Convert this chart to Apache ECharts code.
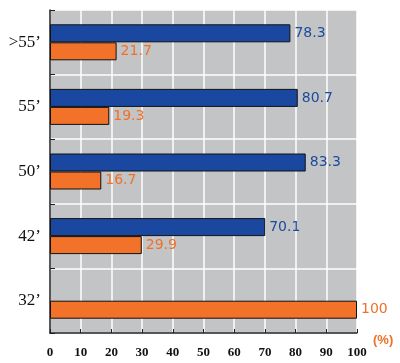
<!DOCTYPE html>
<html><head><meta charset="utf-8">
<script src="https://cdn.jsdelivr.net/npm/echarts@6/dist/echarts.min.js"></script>
<style>html,body{margin:0;padding:0;background:#fff}#c{width:400px;height:363px}</style>
</head><body><div id="c"></div>
<script>
const categories = ["32’", "42’", "50’", "55’", ">55’"];
const blueValues = [null, 70.1, 83.3, 80.7, 78.3];
const orangeValues = [100, 29.9, 16.7, 19.3, 21.7];
const xTicks = [0, 10, 20, 30, 40, 50, 60, 70, 80, 90, 100];

const chart = echarts.init(document.getElementById('c'));
chart.setOption({
  animation: false,
  graphic: [{
    type: 'text', left: 373, top: 334,
    style: { text: '(%)', fill: '#f07028', font: 'bold 13px "Liberation Sans"' }
  }],
  grid: { left: 50, right: 43, top: 10, bottom: 30, show: true, backgroundColor: '#c2c4c6', borderWidth: 0 },
  xAxis: {
    type: 'value', min: xTicks[0], max: xTicks[xTicks.length - 1], interval: 10,
    axisLine: { show: true, lineStyle: { color: '#222', width: 1.5 } },
    axisTick: { show: true, inside: true, length: 4, lineStyle: { color: '#222' } },
    splitLine: { show: true, lineStyle: { color: '#ffffff', width: 1.5 } },
    axisLabel: { color: '#111', fontFamily: 'Liberation Serif', fontWeight: 'bold', fontSize: 13, margin: 13 }
  },
  yAxis: {
    type: 'category', data: categories,
    axisLine: { show: true, lineStyle: { color: '#222', width: 1.5 } },
    axisTick: { show: true, inside: true, length: 5, lineStyle: { color: '#222' } },
    splitLine: { show: true, lineStyle: { color: '#ffffff', width: 1.5 } },
    axisLabel: { color: '#111', fontFamily: 'Liberation Serif', fontSize: 17, margin: 9 }
  },
  series: [
    {
      type: 'bar', name: 'blue', data: blueValues, barWidth: 18, barGap: '0%',
      itemStyle: { color: '#1a48a0', borderColor: '#111', borderWidth: 1 },
      label: { show: true, position: 'right', distance: 4, color: '#1d4a9c', fontFamily: 'DejaVu Sans', fontSize: 14 }
    },
    {
      type: 'bar', name: 'orange', data: orangeValues, barWidth: 18, barGap: '0%',
      itemStyle: { color: '#f2722a', borderColor: '#111', borderWidth: 1 },
      label: { show: true, position: 'right', distance: 4, color: '#f07028', fontFamily: 'DejaVu Sans', fontSize: 14 }
    }
  ]
});
</script></body></html>
